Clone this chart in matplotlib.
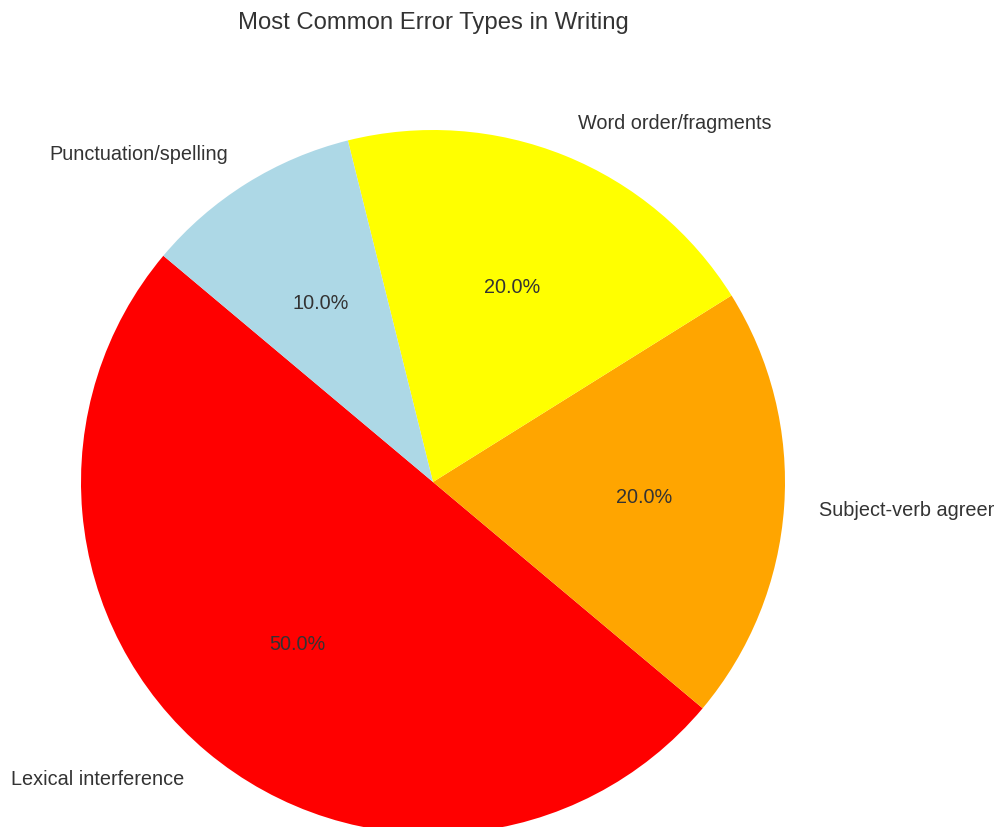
import matplotlib.pyplot as plt

labels = ['Lexical interference', 'Subject-verb agreement', 'Word order/fragments', 'Punctuation/spelling']
sizes = [50, 20, 20, 10]
colors = ['red', 'orange', 'yellow', 'lightblue']

plt.rcParams['font.family'] = ['Liberation Sans', 'DejaVu Sans']
plt.rcParams['text.color'] = '#333333'

fig = plt.figure(figsize=(9.95, 8.28), dpi=100)
# pie radius of ~352 px, centred at (433, 483) from the top-left
ax = fig.add_axes([-7 / 995, -95 / 828, 880 / 995, 880 / 828])
ax.pie(sizes, labels=labels, colors=colors, autopct='%1.1f%%', startangle=140,
       textprops={'fontsize': 14.3, 'color': '#333333'})
ax.set_xlim(-1.25, 1.25)
ax.set_ylim(-1.25, 1.25)
ax.set_aspect('equal')

fig.text(433 / 995, 1 - 23 / 828, 'Most Common Error Types in Writing',
         ha='center', va='center', fontsize=17.2, color='#333333')

fig.savefig('out.png', dpi=100, facecolor='w')
